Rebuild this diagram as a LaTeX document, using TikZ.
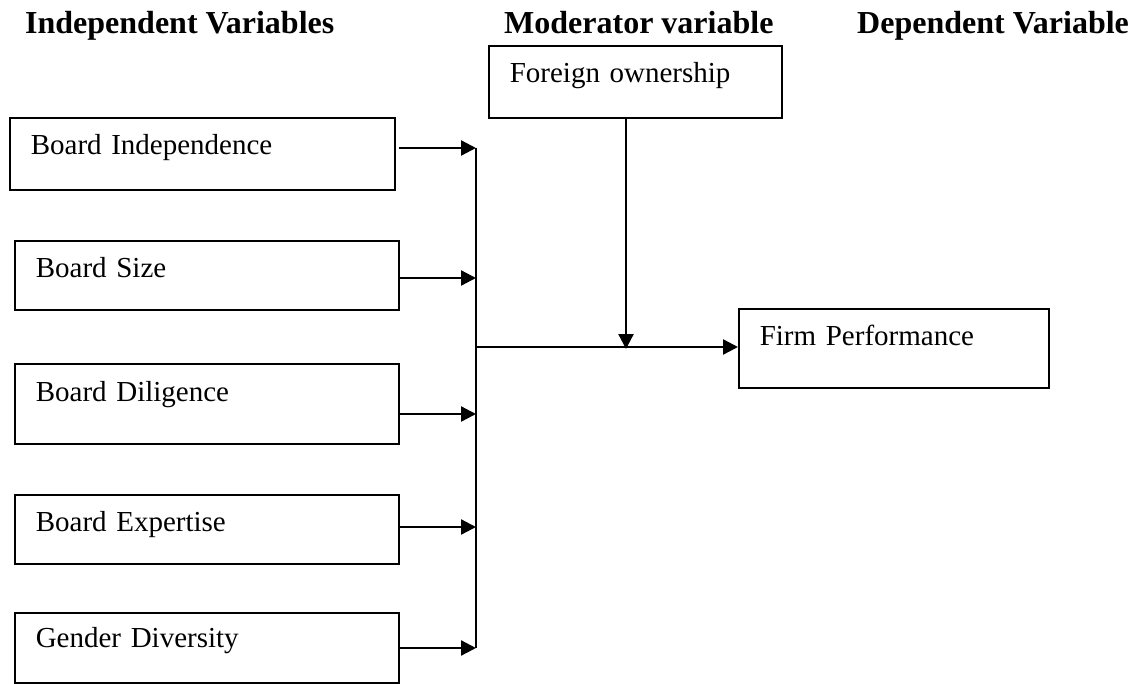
\documentclass[tikz,border=0pt]{standalone}
\usepackage{fontspec}
\setmainfont{Liberation Serif}
\usetikzlibrary{positioning,arrows.meta}

\begin{document}
\begin{tikzpicture}[x=1pt, y=-1pt
    , var box/.style={draw, line width=1.6pt, anchor=north west, inner xsep=21pt, inner ysep=0pt, align=left, font=\fontsize{29}{34}\selectfont}
    , heading/.style={anchor=base west, inner sep=0pt, font=\fontsize{32}{38}\selectfont\bfseries}
    , link/.style={line width=2.3pt, -{Triangle[length=15pt, width=15pt]}}
    ]
    \useasboundingbox (0,0) rectangle (1146,683);

    \node[heading] (indep head) at (25,33) {Independent Variables};
    \node[heading] (mod head) at (504,33) {Moderator variable};
    \node[heading] (dep head) at (857,33) {Dependent Variable};

    \node[var box, text width=343pt, text height=37pt, text depth=35pt] (independence) at (9,117) {Board Independence};
    \node[var box, text width=342pt, text height=37pt, text depth=32pt] (size) at (14,240) {Board Size};
    \node[var box, text width=342pt, text height=38pt, text depth=42pt] (diligence) at (14,363) {Board Diligence};
    \node[var box, text width=342pt, text height=37pt, text depth=32pt] (expertise) at (14,494) {Board Expertise};
    \node[var box, text width=342pt, text height=35pt, text depth=35pt] (gender) at (14,612) {Gender Diversity};
    \node[var box, text width=251pt, text height=37pt, text depth=35pt] (foreign) at (488,45) {Foreign ownership};
    \node[var box, text width=268pt, text height=37pt, text depth=42pt] (performance) at (738,308) {Firm Performance};

    \coordinate (j1) at (476,148);
    \coordinate (j2) at (476,278);
    \coordinate (j3) at (476,414);
    \coordinate (j4) at (476,527);
    \coordinate (j5) at (476,648);
    \coordinate (jm) at (476,347);
    \coordinate (jf) at (626,347);

    \draw[link] ([xshift=3pt]independence.east |- j1) -- (j1);
    \draw[link] (size.east |- j2) -- (j2);
    \draw[link] (diligence.east |- j3) -- (j3);
    \draw[link] (expertise.east |- j4) -- (j4);
    \draw[link] (gender.east |- j5) -- (j5);
    \draw[line width=2.3pt] (j1) -- (j5);
    \draw[link] (jm) -- (performance.west |- jm);
    \draw[link] (foreign.south -| jf) -- ([yshift=-2pt]jf);
  \end{tikzpicture}
\end{document}
